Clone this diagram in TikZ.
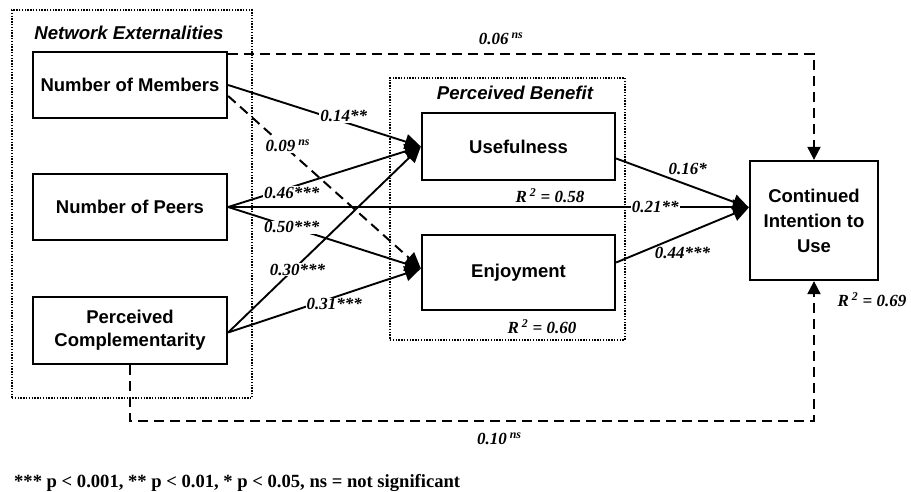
\documentclass[tikz,border=0pt]{standalone}
\usepackage{fontspec}
\setmainfont{Liberation Serif}
\newfontfamily\arialf{Liberation Sans}
\usetikzlibrary{arrows.meta,calc}
\begin{document}
\begin{tikzpicture}[x=1pt,y=-1pt,
 box/.style={draw,line width=2.3pt,fill=white,font=\arialf\bfseries\fontsize{18.5}{23}\selectfont,align=center,inner sep=0pt},
 grp/.style={draw,line width=1.8pt,dash pattern=on 1.4pt off 1.4pt,inner sep=0pt},
 arr/.style={line width=1.9pt,-{Triangle[length=16pt,width=15pt]}},
 dshb/.style={line width=2pt,dash pattern=on 10pt off 6pt,-{Triangle[length=16pt,width=15pt]}},
 dsh/.style={line width=2pt,dash pattern=on 10pt off 6pt,-{Triangle[length=13pt,width=13pt]}},
 lab/.style={font=\bfseries\itshape\fontsize{17}{20}\selectfont,fill=white,inner sep=1pt},
 ttl/.style={font=\arialf\bfseries\itshape\fontsize{18.6}{21}\selectfont}]
\useasboundingbox (0,0) rectangle (911,491);
% groups
\node[grp,minimum width=240pt,minimum height=388pt] (negrp) at (132,204) {};
\node[grp,minimum width=235pt,minimum height=262pt] (pbgrp) at (507.5,209) {};
\node[ttl] (netitle) at (129,33) {Network Externalities};
\node[ttl] (pbtitle) at (515,93) {Perceived Benefit};
% boxes
\node[box,minimum width=194pt,minimum height=66pt] (mem) at (130,85) {Number of Members};
\node[box,minimum width=194pt,minimum height=66pt] (peers) at (130,207) {Number of Peers};
\node[box,minimum width=194pt,minimum height=67pt] (comp) at (130,330.5) {Perceived\\Complementarity};
\node[box,minimum width=193pt,minimum height=67pt] (use) at (518.5,146.5) {Usefulness};
\node[box,minimum width=193pt,minimum height=75pt] (enj) at (518.5,272.5) {Enjoyment};
\node[box,minimum width=128pt,minimum height=119pt,font=\arialf\bfseries\fontsize{18.5}{25}\selectfont] (ci) at (814,220.5) {Continued\\Intention to\\Use};
% helper coordinates
\coordinate (memd) at ($(mem.east)+(0,11)$);
\coordinate (memt) at ($(mem.north east)+(0,3)$);
\coordinate (enjin) at ($(enj.west)+(0,-4)$);
\coordinate (ciin) at ($(ci.west)+(0,-13)$);
\coordinate (compo) at ($(comp.east)+(0,2)$);
% dashed paths
\draw[dsh] (memt) -| node[lab,pos=0.233,yshift=15pt,fill=none]{0.06\,\textsuperscript{ns}} (ci.north);
\draw[dsh] (comp.south) -- ++(0,56) -| node[lab,pos=0.27,yshift=-18pt,fill=none]{0.10\,\textsuperscript{ns}} (ci.south);
\draw[dshb] (memd) -- node[lab,pos=0.31,yshift=4pt]{0.09\,\textsuperscript{ns}} (enjin);
% solid paths
\draw[arr] (mem.east) -- node[lab,pos=0.6,yshift=6pt]{0.14**} (use.west);
\draw[arr] (peers.east) -- node[lab,pos=0.33,yshift=-6pt]{0.46***} (use.west);
\draw[arr] (peers.east) -- node[lab,pos=0.33]{0.50***} (enjin);
\draw[arr] (compo) -- node[lab,pos=0.36,yshift=-4pt]{0.30***} (use.west);
\draw[arr] (compo) -- node[lab,pos=0.55,yshift=-7pt]{0.31***} (enjin);
\draw[arr] (peers.east) -- node[lab,pos=0.82]{0.21**} (peers.east -| ciin);
\draw[arr] ($(use.east)+(0,12)$) -- node[lab,pos=0.54,yshift=16pt,fill=none]{0.16*} (ciin);
\draw[arr] ($(enj.east)+(0,-10)$) -- node[lab,pos=0.5,yshift=-18pt,fill=none]{0.44***} (ciin);
% R squared
\node[lab,fill=none] (r58) at (550,196) {R\,\textsuperscript{2} = 0.58};
\node[lab,fill=none] (r60) at (542,327) {R\,\textsuperscript{2} = 0.60};
\node[lab,fill=none] (r69) at (872,300) {R\,\textsuperscript{2} = 0.69};
% footnote
\node[anchor=west,font=\bfseries\fontsize{18.6}{21}\selectfont,inner sep=0pt] (foot) at (14,483) {*** p < 0.001, ** p < 0.01, * p < 0.05, ns = not significant};
\end{tikzpicture}
\end{document}
